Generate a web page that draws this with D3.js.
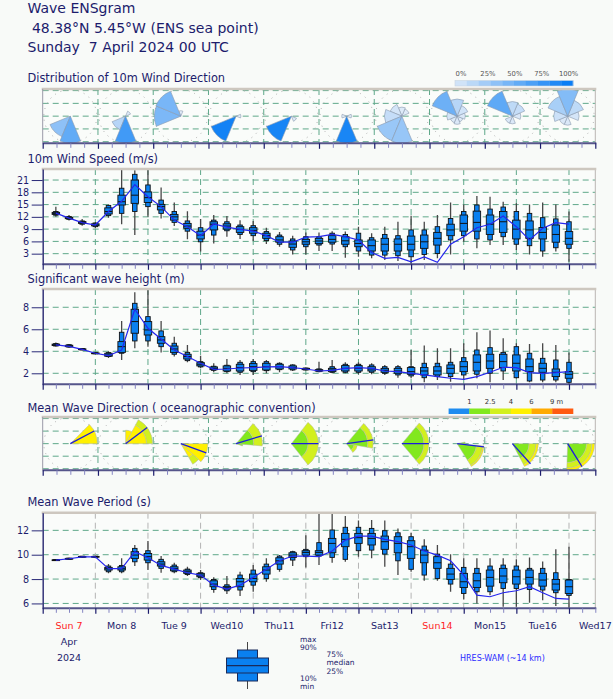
<!DOCTYPE html>
<html><head><meta charset="utf-8">
<script src="https://cdn.jsdelivr.net/npm/d3@7"></script>
<style>
html,body{margin:0;padding:0;background:#f8faf8;}
svg{display:block;font-family:"DejaVu Sans",sans-serif;}
</style></head><body>
<svg id="c" width="613" height="699"></svg>
<script>
// ---------------- DATA ----------------
const stepHours = [6,12,18,24,30,36,42,48,54,60,66,72,78,84,90,96,102,108,114,120,126,132,138,144,150,156,162,168,174,180,186,192,198,204,210,216,222,228,234,240];
const dayLabels = ["Sun 7","Mon 8","Tue 9","Wed10","Thu11","Fri12","Sat13","Sun14","Mon15","Tue16","Wed17"];
const weekendDays = ["Sun 7","Sun14"];

// 10m wind speed (m/s)
const windMin = [12.0,11.1,9.85,9.2,11.8,10.2,7.55,12.0,11.6,9.75,6.5,3.5,5.5,7.15,6.6,6.1,5.35,4.7,2.8,2.8,3.65,3.65,2.0,2.25,1.85,1.45,1.2,0.4,1.45,1.85,2.8,5.9,4.3,5.1,5.1,3.9,2.8,2.25,3.5,1.0];
const windP10 = [12.4,11.4,10.2,9.6,12.3,12.85,13.3,14.5,12.85,10.65,8.5,5.9,7.55,8.6,7.7,7.4,6.2,5.3,3.9,4.7,5.1,5.35,4.7,3.65,2.65,2.65,2.5,2.25,2.8,3.05,6.35,7.4,6.6,6.35,7.15,5.3,4.95,3.65,4.45,4.3];
const windP25 = [12.6,11.55,10.4,9.8,12.7,14.9,15.3,15.5,13.7,11.2,9.2,6.6,8.8,9.0,8.2,8.0,6.75,5.8,4.55,5.3,5.45,5.8,5.3,4.7,3.65,3.65,3.65,3.9,4.3,5.1,7.4,8.5,8.5,7.7,8.2,6.6,6.75,6.6,5.8,5.3];
const windMed = [12.85,11.7,10.6,10.0,13.3,15.7,17.3,16.7,14.5,12.0,9.75,7.55,10.2,9.75,8.95,8.7,7.4,6.35,5.35,5.9,6.1,6.5,6.15,5.5,4.95,5.3,5.3,5.3,5.9,6.75,8.8,10.4,10.65,10.2,10.8,9.0,8.8,8.2,7.7,6.75];
const windP75 = [13.1,11.9,10.85,10.3,14.2,17.3,21.0,18.1,15.05,12.6,10.4,8.5,10.8,10.3,9.6,9.35,8.0,7.15,6.1,6.5,6.75,7.4,7.15,6.35,6.35,6.75,6.6,7.3,7.55,8.2,10.2,12.45,13.4,12.45,13.3,11.2,11.0,9.4,10.0,8.4];
const windP90 = [13.3,12.1,11.0,10.5,14.8,19.0,22.4,19.8,16.1,13.3,11.0,9.35,11.2,10.8,10.0,9.85,8.4,7.55,6.6,7.15,7.15,8.0,7.7,8.0,6.9,7.7,7.4,8.8,8.8,9.6,11.6,13.3,14.9,13.9,14.4,13.3,12.85,11.8,11.5,10.8];
const windMax = [14.5,12.45,11.5,10.7,15.05,24.5,23.4,24.5,19.2,15.5,13.4,11.5,12.45,12.2,11.2,11.0,9.35,8.3,7.4,8.2,8.2,8.5,8.4,9.6,8.0,9.6,10.8,12.3,10.8,12.45,15.5,15.05,17.1,16.9,15.7,15.3,15.05,15.5,15.05,13.3];
const windHres = [12.9,11.7,10.6,10.0,13.3,15.8,19.9,16.9,14.5,11.2,9.6,7.4,10.25,9.5,8.95,8.5,7.4,5.8,5.8,7.05,7.15,7.7,7.15,6.35,3.3,1.85,2.1,1.0,2.2,0.9,5.3,7.15,9.35,10.2,12.2,9.6,6.35,9.2,10.6,10.2];

// Significant wave height (m)
const hsMin = [4.43,4.33,4.1,3.75,3.4,3.2,4.27,4.42,3.9,3.52,3.0,2.45,2.09,2.0,1.85,1.85,2.0,2.09,2.21,2.27,2.09,2.0,2.0,1.91,1.91,1.85,1.6,1.55,1.18,1.39,1.24,1.39,1.55,1.18,1.39,1.5,1.18,1.18,1.18,1.0];
const hsP10 = [4.48,4.38,4.12,3.77,3.52,3.82,4.94,4.94,4.42,3.73,3.15,2.58,2.27,2.15,2.09,2.15,2.24,2.33,2.3,2.3,2.15,2.09,2.09,2.09,2.09,2.0,1.85,1.76,1.6,1.7,1.7,1.85,1.91,2.0,2.21,1.6,1.3,1.39,1.39,1.18];
const hsP25 = [4.52,4.42,4.15,3.8,3.55,3.9,5.64,5.48,4.73,3.9,3.3,2.67,2.33,2.21,2.21,2.27,2.3,2.39,2.39,2.33,2.2,2.15,2.21,2.21,2.21,2.09,2.0,1.91,1.85,1.85,2.0,2.15,2.21,2.45,2.52,2.21,2.15,2.09,1.7,1.55];
const hsMed = [4.58,4.48,4.18,3.82,3.67,4.42,6.7,5.94,5.03,4.21,3.52,2.82,2.45,2.45,2.52,2.6,2.6,2.6,2.52,2.39,2.27,2.3,2.45,2.45,2.39,2.27,2.21,2.15,2.21,2.21,2.45,2.6,3.0,3.12,3.06,2.91,2.6,2.45,2.09,1.91];
const hsP75 = [4.65,4.55,4.22,3.85,3.82,4.88,7.82,6.7,5.33,4.48,3.73,2.97,2.58,2.67,2.82,2.88,2.91,2.82,2.67,2.45,2.33,2.45,2.7,2.7,2.6,2.45,2.45,2.52,2.52,2.6,2.76,3.06,3.67,3.73,3.73,3.67,3.3,2.91,2.39,2.15];
const hsP90 = [4.7,4.6,4.25,3.87,3.88,5.73,8.36,7.15,5.85,4.73,3.9,3.06,2.64,2.73,3.0,3.06,3.06,2.91,2.76,2.48,2.4,2.6,2.82,2.82,2.76,2.6,2.6,2.6,2.91,2.91,3.0,3.42,4.12,4.33,3.9,4.42,3.82,3.36,3.21,3.0];
const hsMax = [4.8,4.67,4.3,3.9,4.0,6.76,9.36,9.8,6.76,5.33,4.58,3.6,2.91,3.3,3.21,3.3,3.21,3.0,2.82,2.52,3.06,3.21,3.0,3.0,2.91,2.76,2.76,4.12,4.52,4.27,4.27,4.73,5.73,5.88,5.18,4.73,4.67,4.73,4.58,3.9];
const hsHres = [4.58,4.45,4.18,3.82,3.6,4.12,7.82,6.09,5.12,4.12,3.52,2.91,2.36,2.39,2.48,2.52,2.58,2.6,2.52,2.39,2.21,2.27,2.45,2.52,2.45,2.21,2.15,2.0,1.85,1.7,1.55,1.45,1.7,2.09,2.55,2.52,2.06,2.0,2.06,2.15];

// Mean wave period (s)
const tmMin = [9.5,9.6,9.78,9.78,8.47,8.47,9.07,8.74,8.52,8.47,8.25,7.92,6.88,6.77,6.6,6.96,7.78,8.6,9.07,8.96,9.15,9.34,9.42,9.84,9.7,9.01,8.33,8.6,7.86,7.86,6.96,6.33,6.0,6.68,5.73,5.73,6.05,6.27,5.78,5.6];
const tmP10 = [9.52,9.63,9.8,9.8,8.6,8.6,9.42,9.34,8.88,8.6,8.38,8.11,7.15,7.04,7.1,7.5,8.05,8.8,9.56,9.84,9.89,9.78,9.62,10.33,10.38,10.05,9.5,8.8,8.33,8.05,7.59,6.82,6.96,6.96,7.23,7.23,7.15,7.1,6.88,6.66];
const tmP25 = [9.54,9.65,9.82,9.82,8.74,8.74,9.7,9.56,9.07,8.68,8.47,8.19,7.37,7.18,7.37,7.78,8.41,9.23,9.78,9.97,9.97,10.16,10.66,10.93,10.8,10.44,10.16,9.7,9.34,8.88,7.97,7.31,7.31,7.42,7.7,7.59,7.59,7.42,7.1,6.82];
const tmMed = [9.56,9.67,9.84,9.84,8.85,8.85,9.97,9.84,9.23,8.85,8.6,8.33,7.59,7.29,7.78,8.05,8.74,9.5,9.97,10.19,10.19,10.93,11.26,11.4,11.34,11.07,10.93,10.66,9.97,9.34,8.41,7.78,7.86,8.14,8.25,8.19,8.14,7.92,7.59,7.37];
const tmP75 = [9.58,9.7,9.86,9.86,8.96,9.01,10.25,10.1,9.42,9.01,8.74,8.47,7.86,7.4,8.05,8.41,9.01,9.75,10.16,10.33,10.33,11.34,11.75,11.75,11.75,11.53,11.48,11.15,10.38,9.84,8.88,8.47,8.47,8.74,8.88,8.74,8.74,8.47,7.97,7.92];
const tmP90 = [9.6,9.72,9.88,9.88,9.07,9.12,10.52,10.33,9.62,9.15,8.82,8.52,7.97,7.53,8.33,8.74,9.23,9.89,10.25,10.44,10.99,12.03,12.25,12.25,12.16,11.97,11.8,11.48,10.71,10.05,9.23,8.96,8.88,9.07,9.15,9.07,8.88,8.88,8.52,7.97];
const tmMax = [9.62,9.75,9.9,9.9,9.23,9.7,10.8,11.12,9.9,9.34,9.01,8.74,8.14,8.25,8.6,9.15,9.7,9.97,10.33,11.6,13.4,13.4,13.18,12.8,12.85,12.8,12.16,11.8,11.26,10.8,10.03,9.7,9.7,9.7,9.7,9.62,9.78,9.45,10.44,10.66];
const tmHres = [9.56,9.67,9.82,9.82,8.85,8.85,10.25,9.75,9.12,8.82,8.52,8.33,7.5,7.18,7.5,8.14,8.8,9.5,9.89,9.89,9.84,10.3,11.2,11.53,11.53,11.26,11.07,10.8,10.3,9.97,9.5,8.33,6.68,6.55,6.88,7.04,7.37,6.88,6.41,6.36];

// Wind direction distribution per day (% per sector: N,NE,E,SE,S,SW,W,NW)
const roseDays = [0,1,2,3,4,5,6,7,8,9];
const windDirProb = [
  [0,0,0,0,60,40,0,0],
  [0,3,0,0,75,22,0,0],
  [2,0,0,0,0,0,48,50],
  [0,0,3,0,0,96,0,0],
  [0,0,0,4,0,94,0,0],
  [0,0,3,0,93,0,3,0],
  [4,3,0,0,36,35,15,8],
  [22,10,5,3,5,4,8,55],
  [18,15,6,0,5,5,0,62],
  [45,18,8,0,5,5,12,28]
];
const windProbTicks = ["0%","25%","50%","75%","100%"];

// Mean wave direction roses: [fromBearing, toBearing, heightClass, innerFrac, outerFrac]
const waveRoses = [
  [[45,90,3,0,1]],
  [[0,28,3,0,0.5],[28,90,3,0,0.78],[28,90,2,0.78,1]],
  [[90,132,3,0,1],[132,150,3,0,0.6],[132,150,2,0.6,0.88]],
  [[40,95,1,0,0.65],[40,95,2,0.65,0.97],[95,110,1,0,0.25]],
  [[38,142,1,0,0.62],[38,142,2,0.62,1]],
  [[40,100,1,0,0.78],[40,100,2,0.78,0.98],[100,145,1,0,0.28],[100,145,2,0.28,0.4]],
  [[40,140,1,0,0.82],[40,140,2,0.82,1]],
  [[78,95,1,0,0.3],[95,148,1,0,0.72],[95,148,2,0.72,0.95],[95,148,3,0.95,1]],
  [[90,152,1,0,0.62],[90,152,2,0.62,0.88],[90,152,3,0.88,0.96]],
  [[90,182,1,0,0.7],[90,182,2,0.7,0.9],[90,182,3,0.9,1]]
];
const waveMeanDir = [62,53,110,73,90,82,90,97,138,148];
const waveClassLabels = ["1","2.5","4","6","9 m"];
const waveClassColors = ["#1e8cf0","#82e81e","#d2f01e","#fff000","#ffaa00","#ff5a10"];

// ---------------- DRAWING ----------------
const svg = d3.select("#c");
const NAVY = "#1c1c6c";
const X0 = 42.7, X1 = 595.3;
const xTime = d3.scaleLinear().domain([0,252]).range([X0,X1]);
const xRose = d3.scaleLinear().domain([0,240]).range([X0,X1]);
const GRID = "#5fa88a";

function txt(s, x, y, size, opts={}) {
  return svg.append("text").attr("x",x).attr("y",y).attr("font-size",size)
    .attr("fill",opts.fill||NAVY).attr("text-anchor",opts.anchor||"start")
    .style("white-space","pre").text(s);
}

// titles
txt("Wave ENSgram",27.5,13,14);
txt(" 48.38°N 5.45°W (ENS sea point)",27.5,32.5,14);
txt("Sunday  7 April 2024 00 UTC",27.5,51.5,14);

txt("Distribution of 10m Wind Direction",27.5,81.5,11.4);
txt("10m Wind Speed (m/s)",27.5,162.5,11.4);
txt("Significant wave height (m)",27.5,282.5,11.4);
txt("Mean Wave Direction ( oceanographic convention)",27.5,411.5,11.4);
txt("Mean Wave Period (s)",27.5,506,11.4);

let clipId = 0;
function frame(g, top, bottom) {
  g.append("line").attr("x1",X1).attr("x2",X1).attr("y1",top).attr("y2",bottom).attr("stroke","#b9b6b2").attr("stroke-width",1);
  g.append("line").attr("x1",X0-1).attr("x2",X1+1).attr("y1",top).attr("y2",top).attr("stroke","#cdc7bf").attr("stroke-width",2.5);
  g.append("line").attr("x1",X0).attr("x2",X1+1).attr("y1",bottom).attr("y2",bottom).attr("stroke","#55558a").attr("stroke-width",2);
}
function bottomTicks(g, scale, bottom, maxH, stepH) {
  const minor = d3.range(0, maxH+0.1, stepH).filter(h => h % 24 !== 0);
  const major = d3.range(0, maxH+0.1, 24);
  const aMin = d3.axisBottom(scale).tickValues(minor).tickSize(4.5).tickFormat("").tickSizeOuter(0);
  const aMaj = d3.axisBottom(scale).tickValues(major).tickSize(5.5).tickFormat("").tickSizeOuter(0);
  const gm = g.append("g").attr("transform",`translate(0,${bottom})`).call(aMin);
  gm.select(".domain").remove(); gm.selectAll("line").attr("stroke","#8585c2");
  const gM = g.append("g").attr("transform",`translate(0,${bottom})`).call(aMaj);
  gM.select(".domain").remove(); gM.selectAll("line").attr("stroke","#1c1c6c").attr("stroke-width",1.2);
}

function timePanel(cfg) {
  const y = d3.scaleLinear().domain(cfg.domain).range([cfg.bottom, cfg.top]);
  const g = svg.append("g");
  const id = "clip"+(clipId++);
  g.append("clipPath").attr("id",id).append("rect").attr("x",X0).attr("y",cfg.top).attr("width",X1-X0).attr("height",cfg.bottom-cfg.top);
  g.append("rect").attr("x",X0).attr("y",cfg.top).attr("width",X1-X0).attr("height",cfg.bottom-cfg.top).attr("fill","#fafcfa");
  // grids
  g.selectAll(".hg").data(cfg.ticks).join("line")
    .attr("x1",X0).attr("x2",X1).attr("y1",d=>y(d)).attr("y2",d=>y(d))
    .attr("stroke",GRID).attr("stroke-width",1).attr("stroke-dasharray","6,4");
  g.selectAll(".vg").data([24,48,72,96,120,144,168,192,216,240]).join("line")
    .attr("x1",d=>xTime(d)).attr("x2",d=>xTime(d)).attr("y1",cfg.top).attr("y2",cfg.bottom)
    .attr("stroke",cfg.vgrid).attr("stroke-width",1).attr("stroke-dasharray","6,4");
  const pg = g.append("g").attr("clip-path",`url(#${id})`);
  const n = stepHours.length;
  const idx = d3.range(n);
  const wN = 4.5, wW = 7.5;
  // whiskers
  pg.selectAll(".wh").data(idx).join("line")
    .attr("x1",i=>xTime(stepHours[i])).attr("x2",i=>xTime(stepHours[i]))
    .attr("y1",i=>y(cfg.mn[i])).attr("y2",i=>y(cfg.mx[i]))
    .attr("stroke","#474747").attr("stroke-width",1.3);
  // 10-90 box
  pg.selectAll(".bn").data(idx).join("rect")
    .attr("x",i=>xTime(stepHours[i])-wN/2).attr("width",wN)
    .attr("y",i=>y(cfg.p90[i])).attr("height",i=>Math.max(0.8,y(cfg.p10[i])-y(cfg.p90[i])))
    .attr("fill","#0a80f0").attr("stroke","#111").attr("stroke-width",0.9);
  // 25-75 box
  pg.selectAll(".bw").data(idx).join("rect")
    .attr("x",i=>xTime(stepHours[i])-wW/2).attr("width",wW)
    .attr("y",i=>y(cfg.p75[i])).attr("height",i=>Math.max(0.8,y(cfg.p25[i])-y(cfg.p75[i])))
    .attr("fill","#0a80f0").attr("stroke","#111").attr("stroke-width",0.9);
  pg.selectAll(".md").data(idx).join("line")
    .attr("x1",i=>xTime(stepHours[i])-wW/2).attr("x2",i=>xTime(stepHours[i])+wW/2)
    .attr("y1",i=>y(cfg.md[i])).attr("y2",i=>y(cfg.md[i]))
    .attr("stroke","#111").attr("stroke-width",1);
  // HRES
  pg.append("path").datum(idx)
    .attr("d", d3.line().x(i=>xTime(stepHours[i])).y(i=>y(cfg.hres[i])))
    .attr("fill","none").attr("stroke","#2626ee").attr("stroke-width",1.2);
  frame(g, cfg.top, cfg.bottom);
  // left axis
  const ax = g.append("g").attr("transform",`translate(${X0},0)`)
    .call(d3.axisLeft(y).tickValues(cfg.ticks).tickSize(11).tickPadding(2.5).tickSizeOuter(0));
  ax.select(".domain").attr("stroke","#35357a").attr("stroke-width",1.5);
  ax.selectAll("line").attr("stroke","#2a2a78");
  ax.selectAll("text").attr("fill",NAVY).attr("font-size",9.6).attr("font-family","DejaVu Sans");
  bottomTicks(g, xTime, cfg.bottom, 252, 6);
  return g;
}

timePanel({top:169, bottom:264.3, domain:[0.4,23.7], ticks:[3,6,9,12,15,18,21], vgrid:GRID,
  mn:windMin,p10:windP10,p25:windP25,md:windMed,p75:windP75,p90:windP90,mx:windMax,hres:windHres});
timePanel({top:289, bottom:384.3, domain:[1.0,9.66], ticks:[2,4,6,8], vgrid:GRID,
  mn:hsMin,p10:hsP10,p25:hsP25,md:hsMed,p75:hsP75,p90:hsP90,mx:hsMax,hres:hsHres});
timePanel({top:512.7, bottom:608.3, domain:[5.6,13.45], ticks:[6,8,10,12], vgrid:"#b4b4b4",
  mn:tmMin,p10:tmP10,p25:tmP25,md:tmMed,p75:tmP75,p90:tmP90,mx:tmMax,hres:tmHres});

// rose panels
function rosePanel(top, bottom) {
  const g = svg.append("g");
  const id = "clip"+(clipId++);
  g.append("clipPath").attr("id",id).append("rect").attr("x",X0).attr("y",top).attr("width",X1-X0).attr("height",bottom-top);
  g.append("rect").attr("x",X0).attr("y",top).attr("width",X1-X0).attr("height",bottom-top).attr("fill","#fafcfa");
  const cy = (top+bottom)/2, step = (bottom-top)/4.25;
  g.selectAll(".hg").data([-2,-1,0,1,2]).join("line")
    .attr("x1",X0).attr("x2",X1).attr("y1",d=>cy+d*step).attr("y2",d=>cy+d*step)
    .attr("stroke",GRID).attr("stroke-width",1).attr("stroke-dasharray","6,4");
  g.selectAll(".vg").data([24,48,72,96,120,144,168,192,216]).join("line")
    .attr("x1",d=>xRose(d)).attr("x2",d=>xRose(d)).attr("y1",top).attr("y2",bottom)
    .attr("stroke",GRID).attr("stroke-width",1).attr("stroke-dasharray","6,4");
  const pg = g.append("g").attr("clip-path",`url(#${id})`);
  pg.selectAll(".ring").data(roseDays).join("circle")
    .attr("cx",d=>xRose(12+24*d)).attr("cy",cy).attr("r",26.5)
    .attr("fill","none").attr("stroke","#a9a9a9").attr("stroke-width",1).attr("stroke-dasharray","1,5");
  return {g, pg, cy, top, bottom};
}
const R = 27;
const rad = Math.PI/180;

// Wind direction panel
const wp = rosePanel(89, 143.3);
const roseColor = d3.scaleLinear().domain([0,100]).range(["#e6eef8","#0a7ef5"]);
const dirNames = [0,1,2,3,4,5,6,7];
roseDays.forEach(d => {
  const probs = windDirProb[d];
  const pmax = d3.max(probs);
  const cx = xRose(12+24*d);
  const arc = d3.arc().innerRadius(0);
  const order = dirNames.filter(k=>probs[k]>0).sort((a,b)=>probs[a]-probs[b]);
  wp.pg.selectAll(null).data(order).join("path")
    .attr("transform",`translate(${cx},${wp.cy})`)
    .attr("d",k=>arc({outerRadius:R*Math.sqrt(probs[k]/pmax), startAngle:(k*45-22.5)*rad, endAngle:(k*45+22.5)*rad}))
    .attr("fill",k=>roseColor(probs[k])).attr("stroke","#8a98ac").attr("stroke-width",0.6);
});
frame(wp.g, 89, 143.3);
wp.g.append("line").attr("x1",X0).attr("x2",X0).attr("y1",89).attr("y2",143.3).attr("stroke","#9a9aa8").attr("stroke-width",1);
bottomTicks(wp.g, xRose, 143.3, 240, 6);

// wind legend
const wl = d3.range(0,100,10);
const wlx = d3.scaleLinear().domain([0,100]).range([455,573]);
svg.selectAll(".wl").data(wl).join("rect")
  .attr("x",d=>wlx(d)).attr("y",80.5).attr("width",wlx(10)-wlx(0)+0.3).attr("height",5.5)
  .attr("fill",d=>roseColor(d+10));
svg.append("rect").attr("x",455).attr("y",80.5).attr("width",118).attr("height",5.5).attr("fill","none").attr("stroke","#c8d4e0").attr("stroke-width",0.6);
windProbTicks.forEach((t,i)=>txt(t, 461+26.9*i, 75.5, 6.8, {anchor:"middle", fill:"#555"}));

// Wave direction panel
const vp = rosePanel(417, 470.3);
roseDays.forEach(d => {
  const cx = xRose(12+24*d);
  const arc = d3.arc();
  vp.pg.selectAll(null).data(waveRoses[d]).join("path")
    .attr("transform",`translate(${cx},${vp.cy})`)
    .attr("d",s=>arc({innerRadius:R*s[3], outerRadius:R*s[4], startAngle:s[0]*rad, endAngle:s[1]*rad}))
    .attr("fill",s=>waveClassColors[s[2]]).attr("stroke","#b4b8a8").attr("stroke-width",0.5);
  const a = waveMeanDir[d]*rad;
  vp.pg.append("line").attr("x1",cx).attr("y1",vp.cy)
    .attr("x2",cx+R*Math.sin(a)).attr("y2",vp.cy-R*Math.cos(a))
    .attr("stroke","#1c1ce0").attr("stroke-width",1.3);
});
frame(vp.g, 417, 470.3);
vp.g.append("line").attr("x1",X0).attr("x2",X0).attr("y1",417).attr("y2",470.3).attr("stroke","#9a9aa8").attr("stroke-width",1);
bottomTicks(vp.g, xRose, 470.3, 240, 6);

// wave legend
const vlx = d3.scaleLinear().domain([0,6]).range([448.6,573]);
svg.selectAll(".vl").data(waveClassColors).join("rect")
  .attr("x",(c,i)=>vlx(i)).attr("y",408.5).attr("width",vlx(1)-vlx(0)+0.3).attr("height",5.5).attr("fill",c=>c);
waveClassLabels.forEach((t,i)=>{
  if (i<4) txt(t, vlx(i+1), 404, 6.8, {anchor:"middle", fill:"#333"});
  else txt(t, vlx(i+1)-2.2, 404, 6.8, {anchor:"start", fill:"#333"});
});

// bottom day labels
dayLabels.forEach((t,i)=>{
  txt(t, xTime(12+24*i), 629, 9.5, {anchor:"middle", fill: weekendDays.includes(t) ? "#ff2424" : NAVY});
});
txt("Apr", xTime(12), 645, 9.5, {anchor:"middle"});
txt("2024", xTime(12), 661, 9.5, {anchor:"middle"});

// box legend
const lg = svg.append("g");
const lcx = 247.5;
lg.append("line").attr("x1",lcx).attr("x2",lcx).attr("y1",642).attr("y2",689).attr("stroke","#444").attr("stroke-width",1);
lg.append("rect").attr("x",lcx-10).attr("y",650).attr("width",20).attr("height",31).attr("fill","#0a80f0").attr("stroke","#1a2a5a").attr("stroke-width",1);
lg.append("rect").attr("x",lcx-21).attr("y",658).attr("width",42).attr("height",15).attr("fill","#0a80f0").attr("stroke","#1a2a5a").attr("stroke-width",1);
lg.append("line").attr("x1",lcx-21).attr("x2",lcx+21).attr("y1",665.6).attr("y2",665.6).attr("stroke","#1a2a5a").attr("stroke-width",1.3);
txt("max",300,641.6,7.5); txt("90%",300,650.2,7.5);
txt("75%",326.5,656.6,7.5); txt("median",326.5,665.3,7.5); txt("25%",326.5,674.0,7.5);
txt("10%",300,680.6,7.5); txt("min",300,689.2,7.5);
txt("HRES-WAM (~14 km)",460,661,8,{fill:"#2a2aff"});
</script>
</body></html>
